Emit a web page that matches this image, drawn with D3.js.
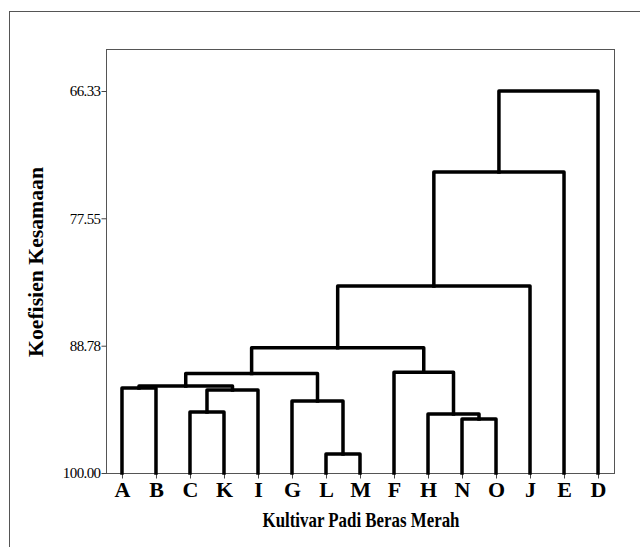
<!DOCTYPE html>
<html>
  <head>
    <meta charset="utf-8">
    <title>Dendrogram Kultivar Padi Beras Merah</title>
    <script src="https://d3js.org/d3.v7.min.js"></script>
    <style>
      body { margin: 0; background: #fff; }
      text { font-family: "Liberation Serif", "Times New Roman", serif; fill: #000; }
      .frame { fill: none; stroke: #555; stroke-width: 1px; }
      .link { fill: none; stroke: #000; stroke-width: 3.5px; stroke-linejoin: round; stroke-linecap: square; }
    </style>
  </head>
  <body>
    <svg id="chart" width="640" height="547"></svg>
    <script>
// leaf order along the x axis
var leaves = ["A", "B", "C", "K", "I", "G", "L", "M", "F", "H", "N", "O", "J", "E", "D"];

// y axis ticks (koefisien kesamaan)
var yTicks = [66.33, 77.55, 88.78, 100.00];

// merges in order: left cluster, right cluster, similarity
var mergeLeft  = ["L", "N", "H",  "C", "G",  "CK", "A", "AB",  "ABCKI", "F",   "ABCKIGLM", "ABCKIGLMFHNO", "ABCKIGLMFHNOJ", "ABCKIGLMFHNOJE"];
var mergeRight = ["M", "O", "NO", "K", "LM", "I",  "B", "CKI", "GLM",   "HNO", "FHNO",     "J",            "E",             "D"];
var mergeSim   = [98.33, 95.24, 94.80, 94.62, 93.65, 92.69, 92.51, 92.33, 91.22, 91.12, 88.95, 83.52, 73.47, 66.33];

var width = 640, height = 547;
var box = { left: 106, top: 49, right: 614, bottom: 473 };

var svg = d3.select("#chart");

// outer frame (only top and left edges show in the picture)
svg.append("rect").attr("class", "frame")
  .attr("x", 9.5).attr("y", 11.5)
  .attr("width", 700).attr("height", 600);

// plot box
svg.append("rect").attr("class", "frame")
  .attr("x", box.left + 0.5).attr("y", box.top + 0.5)
  .attr("width", box.right - box.left).attr("height", box.bottom - box.top);

var x = d3.scalePoint()
  .domain(leaves)
  .range([box.left, box.right])
  .padding(0.47);

var y = d3.scaleLinear()
  .domain([66.33, 100])
  .range([91, box.bottom]);

// y axis
var yAxis = svg.append("g")
  .attr("transform", "translate(" + (box.left + 0.5) + ",0)")
  .call(d3.axisLeft(y).tickValues(yTicks).tickSize(5).tickFormat(d3.format(".2f")));
yAxis.select(".domain").remove();
yAxis.selectAll("line").attr("stroke", "#444");
yAxis.selectAll("text")
  .attr("font-size", 15)
  .attr("font-family", "Liberation Serif")
  .attr("letter-spacing", "-0.6px")
  .attr("x", -6);

// x axis
var xAxis = svg.append("g")
  .attr("transform", "translate(0," + (box.bottom + 0.5) + ")")
  .call(d3.axisBottom(x).tickSize(5).tickSizeOuter(0));
xAxis.select(".domain").remove();
xAxis.selectAll("line").attr("stroke", "#444");
xAxis.selectAll("text")
  .attr("font-size", 22)
  .attr("font-weight", "bold")
  .attr("font-family", "Liberation Serif")
  .attr("y", 8)
  .attr("dy", "0.71em");

// build cluster positions from the merge lists
var nodes = {};
leaves.forEach(function(d) {
  nodes[d] = { x: x(d), sim: 100 };
});

var links = svg.append("g");
mergeLeft.forEach(function(l, i) {
  var r = mergeRight[i];
  var a = nodes[l], b = nodes[r];
  var s = mergeSim[i];
  nodes[l + r] = { x: (a.x + b.x) / 2, sim: s };
  var p = d3.path();
  p.moveTo(a.x, y(a.sim));
  p.lineTo(a.x, y(s));
  p.lineTo(b.x, y(s));
  p.lineTo(b.x, y(b.sim));
  links.append("path").attr("class", "link").attr("d", p.toString());
});

// axis titles
svg.append("text")
  .attr("transform", "translate(43,262) rotate(-90)")
  .attr("text-anchor", "middle")
  .attr("font-size", 20)
  .attr("font-weight", "bold")
  .attr("textLength", 190)
  .attr("lengthAdjust", "spacingAndGlyphs")
  .text("Koefisien Kesamaan");

svg.append("text")
  .attr("x", 361)
  .attr("y", 527)
  .attr("text-anchor", "middle")
  .attr("font-size", 21)
  .attr("font-weight", "bold")
  .attr("textLength", 197)
  .attr("lengthAdjust", "spacingAndGlyphs")
  .text("Kultivar Padi Beras Merah");
    </script>
  </body>
</html>
